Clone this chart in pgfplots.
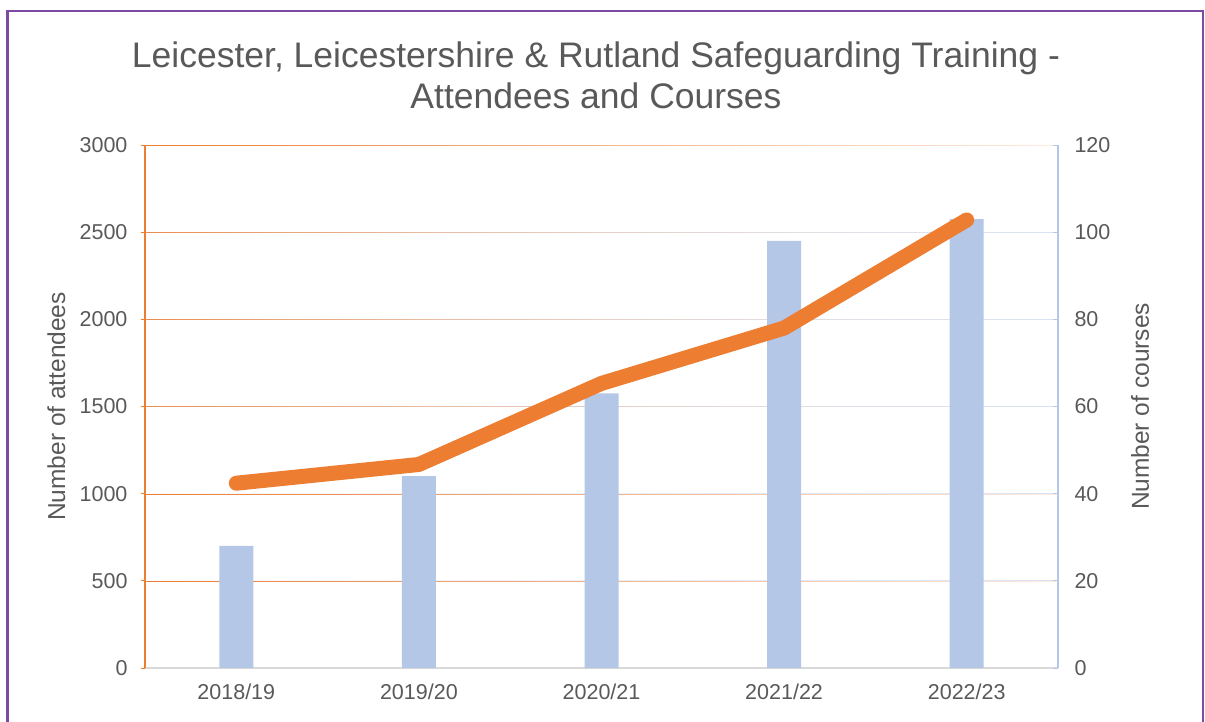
\documentclass[border=0pt]{standalone}
\usepackage{pgfplots}
\pgfplotsset{compat=1.18}
\usepackage{fontspec}
\setmainfont{Liberation Sans}
\usetikzlibrary{fadings}
\definecolor{orr}{HTML}{ED7D31}
\definecolor{bl}{HTML}{B4C7E7}
\definecolor{gblue}{HTML}{DAE3F3}
\definecolor{txt}{HTML}{595959}
\definecolor{pur}{HTML}{7A4BA3}
\tikzfading[name=fadeR, left color=transparent!0, right color=transparent!85]
\tikzfading[name=fadeL, left color=transparent!85, right color=transparent!0]
\pgfplotsset{/pgf/number format/assume math mode=true, /pgf/number format/1000 sep={}}
\begin{document}
\begin{tikzpicture}[x=1pt,y=1pt]
\useasboundingbox (0,-722) rectangle (1205,0);
\clip (0,-722) rectangle (1205,0);
\draw[pur, line width=2.2pt] (7.5,-760) -- (7.5,-11) -- (1203,-11) -- (1203,-760);
\node[txt, font=\fontsize{35.5}{41}\selectfont, align=center] at (596,-75) {Leicester, Leicestershire \& Rutland Safeguarding Training -\\Attendees and Courses};
\begin{axis}[at={(145pt,-668pt)}, anchor=south west, scale only axis,
  width=913pt, height=523pt,
  xmin=-0.5, xmax=4.5, ymin=0, ymax=3000,
  xtick={0,1,2,3,4}, xticklabels={2018/19,2019/20,2020/21,2021/22,2022/23},
  ytick={0,500,...,3000},
  axis x line*=bottom, axis y line*=left,
  x axis line style={draw=black!15, line width=1.2pt, -},
  y axis line style={draw=orr, line width=1.2pt, -},
  xtick style={draw=none},
  ytick style={draw=orr, line width=1pt},
  tick align=outside, major tick length=4pt,
  ymajorgrids,
  major grid style={draw=orr, line width=1pt, path fading=fadeR},
  extra y ticks={500,1000,1500,2000,2500},
  extra y tick labels={},
  extra y tick style={grid=major, major grid style={draw=gblue, line width=1pt, path fading=fadeL}, tick style={draw=none}},
  ticklabel style={txt, font=\fontsize{21.5}{24}\selectfont},
  yticklabel style={xshift=-10pt},
  xticklabel style={yshift=-8pt},
  ylabel={Number of attendees},
  ylabel style={txt, font=\fontsize{24.5}{28}\selectfont, at={(axis description cs:-0.097,0.5)}, anchor=center},
]
\addplot[ybar, bar width=34pt, fill=bl, draw=none] coordinates {(0,700) (1,1100) (2,1575) (3,2450) (4,2575)};
\end{axis}
\begin{axis}[at={(145pt,-668pt)}, anchor=south west, scale only axis,
  width=913pt, height=523pt,
  xmin=-0.5, xmax=4.5, ymin=0, ymax=120,
  ytick={0,20,...,120}, xtick=\empty,
  axis y line*=right, axis x line=none,
  y axis line style={draw=bl, line width=1.5pt, -},
  ytick style={draw=bl, line width=1pt},
  tick align=inside, major tick length=5pt,
  ticklabel style={txt, font=\fontsize{21.5}{24}\selectfont},
  yticklabel style={xshift=13pt},
  ylabel={Number of courses},
  ylabel style={txt, font=\fontsize{24.5}{28}\selectfont, at={(axis description cs:1.0898,0.5)}, anchor=center},
]
\addplot[orr, line width=15pt, line cap=round, line join=round] coordinates {(0,42.4) (1,46.7) (2,65.3) (3,78) (4,102.8)};
\end{axis}
\end{tikzpicture}
\end{document}
